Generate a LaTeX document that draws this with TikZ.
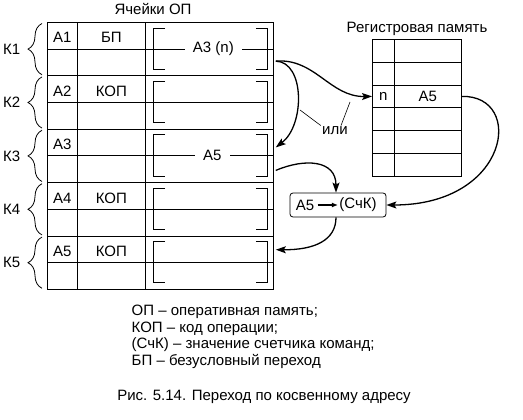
\documentclass[tikz,border=0pt]{standalone}
\usepackage{fontspec}
\setmainfont{Liberation Sans}
\usepackage{tikz}
\usetikzlibrary{positioning, arrows.meta, calc, decorations.pathreplacing}

\begin{document}
\begin{tikzpicture}[x=1pt, y=-1pt, line width=0.8pt,
    font=\fontsize{15}{18}\selectfont,
    cell/.style={draw, minimum height=53.4pt, inner sep=0pt, anchor=north west},
    regcell/.style={draw, minimum height=22.8pt, inner sep=0pt, anchor=north west},
    jump/.style={line width=1.3pt, -{Stealth[length=10pt, width=7pt, inset=2pt]}},
    midlabel/.style={fill=white, inner xsep=8pt, inner ysep=2pt}]
  \useasboundingbox (0,0) rectangle (523,420);
  \node[anchor=base] (celltitle) at (153,15) {Ячейки ОП};
  \foreach \i/\a/\b in {1/A1/БП, 2/A2/КОП, 3/A3/, 4/A4/КОП, 5/A5/КОП} {
    \pgfmathsetmacro{\ktop}{22+53.4*(\i-1)}
    \node[cell, minimum width=30pt] (a\i) at (47,\ktop) {};
    \node[cell, minimum width=68pt] (o\i) at (77,\ktop) {};
    \node[cell, minimum width=128pt] (c\i) at (145,\ktop) {};
    \draw (a\i.west) -- (c\i.east);
    \node[anchor=base] (an\i) at ($(a\i.north)+(0,21)$) {\a};
    \node[anchor=base] (on\i) at ($(o\i.north)+(0,21)$) {\b};
    \draw ($(c\i.north west)+(20,6)$) -- ++(-12,0) |- ($(c\i.south west)+(20,-7)$);
    \draw ($(c\i.north east)+(-18,6)$) -- ++(12,0) |- ($(c\i.south east)+(-18,-7)$);
    \draw[decorate, decoration={brace, amplitude=14pt}]
      ($(a\i.south west)+(-5,-1.5)$) -- ($(a\i.north west)+(-5,1.5)$)
      node[midway, left=18pt] (k\i) {К\i};
  }
  \node[midlabel] (addr1) at ($(c1.center)+(4,0)$) {A3 (n)};
  \node[midlabel] (addr3) at ($(c3.center)+(3,0)$) {A5};

  \node[anchor=base] (regtitle) at (417,33) {Регистровая память};
  \foreach \j in {1,...,6} {
    \pgfmathsetmacro{\rtop}{39+22.8*(\j-1)}
    \node[regcell, minimum width=22pt] (rl\j) at (372,\rtop) {};
    \node[regcell, minimum width=67pt] (rr\j) at (394,\rtop) {};
  }
  \node (regn) at (rl3.center) {n};
  \node (rega) at (rr3.center) {A5};

  \node[draw, rounded corners=3pt, minimum width=96pt, minimum height=24pt] (pc) at (338,205) {};
  \node[inner sep=1pt] (pca) at (305,205) {A5};
  \node[inner sep=1pt] (pcb) at (358,205) {(СчК)};
  \draw[line width=1.6pt, -{Latex[length=6pt, width=5pt]}] ([xshift=2pt]pca.east) -- (pcb.west);

  \coordinate (k1out) at ($(c1.east)+(2,12)$);
  \coordinate (k3in) at ($(c3.east)+(2,-8.5)$);
  \coordinate (k3out) at ($(c3.east)+(2,14.5)$);
  \coordinate (k5in) at ($(c5.east)+(2,-13)$);
  \draw[jump] (k1out) .. controls (315,58) and (330,97) .. (rl3.west);
  \draw[jump] (k1out) .. controls (305,62) and (305,125) .. (k3in);
  \draw[jump] (rr3.east) .. controls (525,95) and (510,205) .. (pc.east);
  \draw[jump] (k3out) .. controls (305,158) and (336,160) .. ([xshift=-2pt]pc.north);
  \draw[jump] ([xshift=-2pt]pc.south) .. controls (336,240) and (315,250) .. (k5in);

  \node[inner sep=1pt] (ili) at (335,131) {или};
  \coordinate (ili1) at (300,110);
  \coordinate (ili2) at (350,102);
  \draw[line width=0.6pt] (ili.north west) -- (ili1);
  \draw[line width=0.6pt] ([xshift=6pt]ili.north) -- (ili2);

  \node[anchor=base west] (leg1) at (128,315) {ОП – оперативная память;};
  \node[anchor=base west] (leg2) at (128,332) {КОП – код операции;};
  \node[anchor=base west] (leg3) at (128,348.5) {(СчК) – значение счетчика команд;};
  \node[anchor=base west] (leg4) at (128,365) {БП – безусловный переход};
  \node[anchor=base] (caption) at (264,400) {Рис. 5.14. Переход по косвенному адресу};
\end{tikzpicture}
\end{document}
